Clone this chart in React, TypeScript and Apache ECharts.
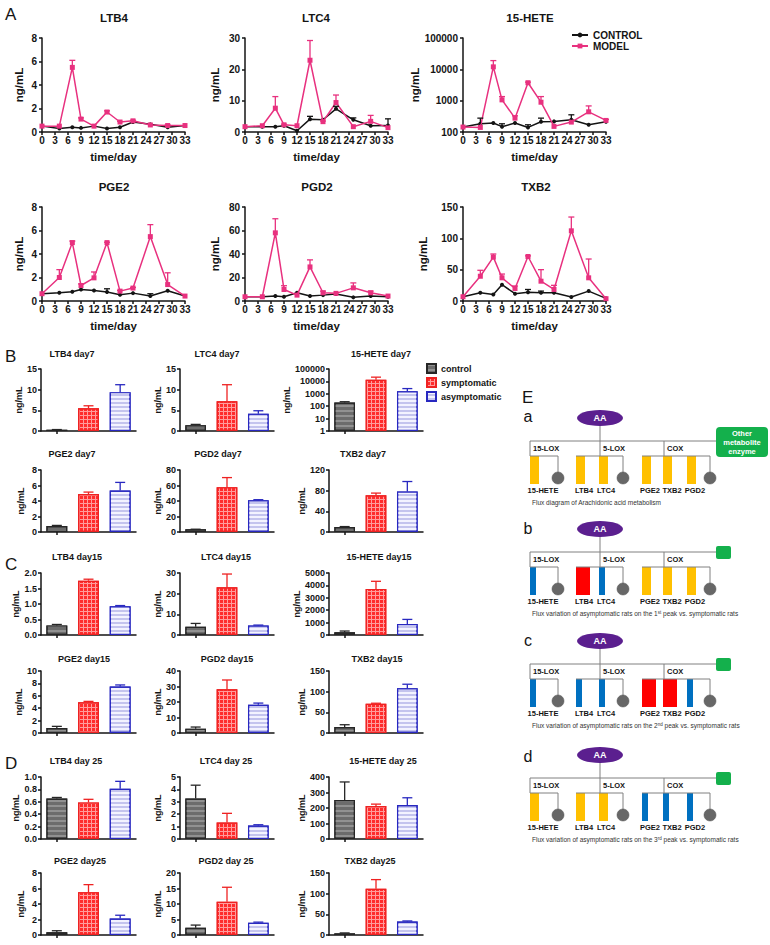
import React, { useEffect, useRef } from "react";
import * as echarts from "echarts";

const FONT = '"Liberation Sans", Arial, Helvetica, sans-serif';
const INK = "#141414";
const PINK = "#e8317f";

// ---------------- Panel A: time course (CONTROL vs MODEL) ----------------
const days = [0, 4, 7, 9, 12, 15, 18, 21, 25, 29, 33];

const ltb4Control = [0.5, 0.3, 0.4, 0.35, 0.5, 0.3, 0.4, 0.85, 0.65, 0.4, 0.55];
const ltb4ControlUp = [0.5, 0.3, 0.4, 0.35, 0.5, 0.3, 0.4, 0.85, 0.65, 0.4, 0.55];
const ltb4Model = [0.5, 0.5, 5.5, 1.1, 0.5, 1.7, 0.85, 0.95, 0.6, 0.55, 0.55];
const ltb4ModelUp = [0.5, 0.5, 6.1, 1.2, 0.5, 1.8, 0.9, 1.0, 0.6, 0.6, 0.55];

const ltc4Control = [1.7, 1.7, 1.7, 2.0, 0.4, 4.1, 3.9, 7.4, 3.9, 2.0, 2.1];
const ltc4ControlUp = [1.7, 1.7, 1.7, 2.0, 0.4, 5.0, 3.9, 8.2, 4.5, 2.0, 4.2];
const ltc4Model = [1.7, 2.0, 7.6, 2.3, 2.0, 22.9, 3.3, 9.4, 1.7, 3.4, 1.4];
const ltc4ModelUp = [1.7, 2.0, 11.3, 2.5, 2.0, 29.2, 3.5, 11.8, 1.7, 5.3, 1.4];

const heteControl = [144, 183, 193, 148, 193, 140, 212, 218, 246, 170, 212];
const heteControlUp = [144, 277, 193, 183, 193, 170, 277, 218, 354, 170, 212];
const heteModel = [144, 140, 12000, 1060, 277, 3740, 893, 151, 207, 441, 234];
const heteModelUp = [144, 140, 19000, 1350, 330, 3900, 1350, 151, 207, 680, 250];

const pge2Control = [0.62, 0.7, 0.79, 0.98, 0.9, 0.76, 0.53, 0.67, 0.42, 0.87, 0.42];
const pge2ControlUp = [0.62, 0.7, 0.79, 0.98, 0.9, 1.04, 0.53, 0.67, 0.62, 0.87, 0.42];
const pge2Model = [0.62, 2.0, 4.97, 1.32, 1.97, 4.97, 0.84, 1.1, 5.48, 1.4, 0.42];
const pge2ModelUp = [0.62, 2.67, 5.1, 1.45, 2.47, 5.0, 0.9, 1.15, 6.5, 2.4, 0.42];

const pgd2Control = [3.6, 3.6, 4.2, 3.6, 7, 4.2, 5, 5.9, 3.1, 4.2, 3.6];
const pgd2ControlUp = [3.6, 3.6, 4.2, 3.6, 7, 4.2, 5, 5.9, 3.1, 4.2, 3.6];
const pgd2Model = [3.6, 3.6, 58, 9.8, 5, 29, 7, 6.5, 11.2, 7, 4.2];
const pgd2ModelUp = [3.6, 3.6, 70, 13, 5, 35, 8.4, 6.5, 15.4, 8.4, 4.2];

const txb2Control = [6.8, 13, 10.5, 26, 11.6, 14, 13, 13, 6.3, 15.8, 4.2];
const txb2ControlUp = [6.8, 13, 10.5, 26, 11.6, 18.4, 15.8, 13, 6.3, 15.8, 4.2];
const txb2Model = [6.8, 39.5, 70, 37, 20, 71, 31.6, 18.4, 112, 37, 3.7];
const txb2ModelUp = [6.8, 49, 75, 43, 24, 72, 50, 25, 134, 67, 3.7];

const lineCharts = [
  { name: "LTB4", control: ltb4Control, controlUp: ltb4ControlUp, model: ltb4Model, modelUp: ltb4ModelUp, min: 0, max: 8, interval: 2, log: false },
  { name: "LTC4", control: ltc4Control, controlUp: ltc4ControlUp, model: ltc4Model, modelUp: ltc4ModelUp, min: 0, max: 30, interval: 10, log: false },
  { name: "15-HETE", control: heteControl, controlUp: heteControlUp, model: heteModel, modelUp: heteModelUp, min: 100, max: 100000, interval: 0, log: true },
  { name: "PGE2", control: pge2Control, controlUp: pge2ControlUp, model: pge2Model, modelUp: pge2ModelUp, min: 0, max: 8, interval: 2, log: false },
  { name: "PGD2", control: pgd2Control, controlUp: pgd2ControlUp, model: pgd2Model, modelUp: pgd2ModelUp, min: 0, max: 80, interval: 20, log: false },
  { name: "TXB2", control: txb2Control, controlUp: txb2ControlUp, model: txb2Model, modelUp: txb2ModelUp, min: 0, max: 150, interval: 50, log: false },
];

// ---------------- Panels B, C, D: bar charts ----------------
const groups = ["control", "symptomatic", "asymptomatic"];

// B: day 7
const ltb4Day7 = [0.3, 5.5, 9.4];
const ltb4Day7Up = [0.35, 6.1, 11.2];
const ltc4Day7 = [1.4, 7.2, 4.2];
const ltc4Day7Up = [1.6, 11.2, 4.9];
const heteDay7 = [195, 13500, 1620];
const heteDay7Up = [230, 22000, 2640];
const pge2Day7 = [0.77, 4.9, 5.36];
const pge2Day7Up = [0.85, 5.15, 6.4];
const pgd2Day7 = [3.4, 57.9, 40.9];
const pgd2Day7Up = [3.6, 70.2, 41.7];
const txb2Day7 = [9.6, 70.9, 78.5];
const txb2Day7Up = [10.5, 75.3, 97.7];

// C: day 15
const ltb4Day15 = [0.31, 1.75, 0.93];
const ltb4Day15Up = [0.34, 1.8, 0.95];
const ltc4Day15 = [4.0, 23.1, 4.65];
const ltc4Day15Up = [5.6, 29.5, 4.8];
const heteDay15 = [214, 3716, 882];
const heteDay15Up = [320, 4330, 1257];
const pge2Day15 = [0.8, 4.97, 7.49];
const pge2Day15Up = [1.07, 5.1, 7.75];
const pgd2Day15 = [2.8, 28.2, 18.2];
const pgd2Day15Up = [3.85, 34.2, 19.3];
const txb2Day15 = [14.4, 70.6, 108];
const txb2Day15Up = [20, 72, 118];

// D: day 25
const ltb4Day25 = [0.654, 0.59, 0.81];
const ltb4Day25Up = [0.67, 0.64, 0.93];
const ltc4Day25 = [3.27, 1.33, 1.09];
const ltc4Day25Up = [4.34, 2.07, 1.15];
const heteDay25 = [251, 213, 219];
const heteDay25Up = [368, 225, 266];
const pge2Day25 = [0.34, 5.53, 2.13];
const pge2Day25Up = [0.55, 6.5, 2.55];
const pgd2Day25 = [2.34, 10.7, 3.94];
const pgd2Day25Up = [3.2, 15.4, 4.15];
const txb2Day25 = [4, 112, 32.7];
const txb2Day25Up = [5, 134, 34];

const barCharts = [
  { title: "LTB4 day7", mean: ltb4Day7, up: ltb4Day7Up, max: 15, interval: 5, dec: 0, log: false },
  { title: "LTC4 day7", mean: ltc4Day7, up: ltc4Day7Up, max: 15, interval: 5, dec: 0, log: false },
  { title: "15-HETE day7", mean: heteDay7, up: heteDay7Up, max: 100000, interval: 0, dec: 0, log: true },
  { title: "PGE2 day7", mean: pge2Day7, up: pge2Day7Up, max: 8, interval: 2, dec: 0, log: false },
  { title: "PGD2 day7", mean: pgd2Day7, up: pgd2Day7Up, max: 80, interval: 20, dec: 0, log: false },
  { title: "TXB2 day7", mean: txb2Day7, up: txb2Day7Up, max: 120, interval: 40, dec: 0, log: false },
  { title: "LTB4 day15", mean: ltb4Day15, up: ltb4Day15Up, max: 2, interval: 0.5, dec: 1, log: false },
  { title: "LTC4 day15", mean: ltc4Day15, up: ltc4Day15Up, max: 30, interval: 10, dec: 0, log: false },
  { title: "15-HETE day15", mean: heteDay15, up: heteDay15Up, max: 5000, interval: 1000, dec: 0, log: false },
  { title: "PGE2 day15", mean: pge2Day15, up: pge2Day15Up, max: 10, interval: 2, dec: 0, log: false },
  { title: "PGD2 day15", mean: pgd2Day15, up: pgd2Day15Up, max: 40, interval: 10, dec: 0, log: false },
  { title: "TXB2 day15", mean: txb2Day15, up: txb2Day15Up, max: 150, interval: 50, dec: 0, log: false },
  { title: "LTB4 day 25", mean: ltb4Day25, up: ltb4Day25Up, max: 1, interval: 0.2, dec: 1, log: false },
  { title: "LTC4 day 25", mean: ltc4Day25, up: ltc4Day25Up, max: 5, interval: 1, dec: 0, log: false },
  { title: "15-HETE day 25", mean: heteDay25, up: heteDay25Up, max: 400, interval: 100, dec: 0, log: false },
  { title: "PGE2 day25", mean: pge2Day25, up: pge2Day25Up, max: 8, interval: 2, dec: 0, log: false },
  { title: "PGD2 day 25", mean: pgd2Day25, up: pgd2Day25Up, max: 20, interval: 5, dec: 0, log: false },
  { title: "TXB2 day25", mean: txb2Day25, up: txb2Day25Up, max: 150, interval: 50, dec: 0, log: false },
];

// ---------------- Panel E: flux diagrams ----------------
const fluxMetabolites = ["15-HETE", "LTB4", "LTC4", "PGE2", "TXB2", "PGD2"];
const fluxA = ["base", "base", "base", "base", "base", "base"];
const fluxB = ["down", "up", "down", "base", "base", "base"];
const fluxC = ["down", "down", "down", "up", "up", "down"];
const fluxD = ["base", "base", "base", "down", "down", "down"];
const fluxLetters = ["a", "b", "c", "d"];
const fluxCaptions = [
  "Flux diagram of Arachidonic acid metabolism",
  "{n|Flux variation of asymptomatic rats on the 1}{s|st}{n| peak vs. symptomatic rats}",
  "{n|Flux variation of asymptomatic rats on the 2}{s|nd}{n| peak vs. symptomatic rats}",
  "{n|Flux variation of asymptomatic rats on the 3}{s|rd}{n| peak vs. symptomatic rats}",
];

// ---------------- layout ----------------
const lineLayout = [
  { left: 42, top: 38, gap: 17, tx: 114, ty: 18 },
  { left: 245, top: 38, gap: 24, tx: 316, ty: 18 },
  { left: 463, top: 38, gap: 38, tx: 530, ty: 18 },
  { left: 42, top: 207, gap: 17, tx: 114, ty: 187 },
  { left: 245, top: 207, gap: 24, tx: 317, ty: 187 },
  { left: 463, top: 207, gap: 34, tx: 536, ty: 187 },
];
const barColLeft = [41, 180, 329];
const barColWidth = [95, 94, 94];
const barRowTop = [369, 470, 573, 671, 777, 873];
const barTitleY = [354, 454, 557, 659, 761, 861];
const barTitleX = [
  [72, 217, 381],
  [72, 218, 363],
  [77, 226, 379],
  [84, 227, 377],
  [76, 226, 383],
  [80, 226, 370],
];

const barPalette = ["#262626", "#ee2222", "#2828c0"];
const barStyles = [
  { color: "#6c6c6c", borderColor: "#262626", borderWidth: 1.2, decal: { symbol: "rect", symbolSize: 1, dashArrayX: [1, 0], dashArrayY: [2, 3], color: "rgba(175,175,175,0.55)" } },
  { color: "#ff9c9c", borderColor: "#ee2222", borderWidth: 1.2, decal: { symbol: "rect", symbolSize: 1, dashArrayX: [3, 1], dashArrayY: [3, 1], color: "#ff2c2c" } },
  { color: "#c4c4ee", borderColor: "#2828c0", borderWidth: 1.2, decal: { symbol: "rect", symbolSize: 1, dashArrayX: [1, 0], dashArrayY: [2, 2], color: "#f3f3ff" } },
];

function errorSeries(idx: number, points: any[], colors: string[], cap: number) {
  return {
    type: "custom",
    name: "error",
    xAxisIndex: idx,
    yAxisIndex: idx,
    silent: true,
    z: 5,
    data: points,
    renderItem: (_p: any, api: any) => {
      const x = api.value(0);
      const v = api.value(1);
      const up = api.value(2);
      const ci = api.value(3);
      if (!(up > v)) return null;
      const a = api.coord([x, v]);
      const b = api.coord([x, up]);
      const color = colors[ci];
      return {
        type: "group",
        children: [
          { type: "line", shape: { x1: a[0], y1: a[1], x2: b[0], y2: b[1] }, style: { stroke: color, lineWidth: 1.3 } },
          { type: "line", shape: { x1: b[0] - cap, y1: b[1], x2: b[0] + cap, y2: b[1] }, style: { stroke: color, lineWidth: 1.3 } },
        ],
      };
    },
  };
}

function txt(text: string, x: number, y: number, size: number, opts: any = {}) {
  return {
    type: "text",
    x,
    y,
    silent: true,
    style: {
      text,
      fill: opts.fill || INK,
      fontFamily: FONT,
      fontSize: size,
      fontWeight: opts.weight || "normal",
      align: opts.align || "center",
      verticalAlign: "middle",
      textAlign: opts.align || "center",
      textVerticalAlign: "middle",
      lineHeight: opts.lineHeight,
      rich: opts.rich,
    },
  };
}

const fluxColor: any = { base: "#ffc000", up: "#ff0000", down: "#0070c0" };
const fluxWidth: any = { base: 9, up: 14, down: 6 };
const fluxOffsets = [0, 111, 223, 337];
const slotLeft = [530, 576, 599, 642, 663, 687];
const labelX = [543, 584, 606, 650, 672, 695];

function fluxDiagram(k: number, states: string[]) {
  const dy = fluxOffsets[k];
  const els: any[] = [];
  const L = { stroke: "#808080", lineWidth: 1 };
  const mainY = 441 + dy;
  const subY = 456 + dy;
  const barBottom = 484 + dy;
  const circY = 478 + dy;
  const line = (x1: number, y1: number, x2: number, y2: number) =>
    els.push({ type: "line", silent: true, shape: { x1, y1, x2, y2 }, style: L });
  states.forEach((s, m) =>
    els.push({ type: "rect", silent: true, shape: { x: slotLeft[m], y: subY, width: fluxWidth[s], height: barBottom - subY }, style: { fill: fluxColor[s] } })
  );
  line(530, mainY, 716, mainY);
  line(600, 424 + dy, 600, subY);
  line(530, mainY, 530, subY);
  line(664, mainY, 664, subY);
  line(530, subY, 558, subY);
  line(558, subY, 558, circY);
  line(576, subY, 623, subY);
  line(623, subY, 623, circY);
  line(642, subY, 710, subY);
  line(710, subY, 710, circY);
  [558, 623, 710].forEach((cx) =>
    els.push({ type: "circle", silent: true, shape: { cx, cy: circY, r: 6 }, style: { fill: "#676767", stroke: "#555", lineWidth: 0.5 } })
  );
  els.push({ type: "ellipse", silent: true, shape: { cx: 600, cy: 418 + dy, rx: 23, ry: 8 }, style: { fill: "#5b1f8f" } });
  els.push(txt("AA", 600, 418 + dy, 9, { weight: "bold", fill: "#ffffff" }));
  els.push(txt("15-LOX", 533, 448 + dy, 7.5, { weight: "bold", align: "left" }));
  els.push(txt("5-LOX", 603, 448 + dy, 7.5, { weight: "bold", align: "left" }));
  els.push(txt("COX", 667, 448 + dy, 7.5, { weight: "bold", align: "left" }));
  fluxMetabolites.forEach((m, i) => els.push(txt(m, labelX[i], 490 + dy, 7.5, { weight: "bold" })));
  if (k === 0) {
    els.push({ type: "rect", silent: true, shape: { x: 716, y: 427, width: 52, height: 30, r: 4 }, style: { fill: "#14b04c" } });
    els.push(txt("Other\nmetabolite\nenzyme", 742, 442, 7.5, { weight: "bold", fill: "#ffffff", lineHeight: 9 }));
  } else {
    els.push({ type: "rect", silent: true, shape: { x: 716, y: mainY - 6, width: 15, height: 13, r: 2 }, style: { fill: "#14b04c" } });
  }
  els.push(
    txt(fluxCaptions[k], 532, 502 + dy, 6.5, {
      align: "left",
      fill: "#333333",
      rich: { n: { fontSize: 6.5, fontFamily: FONT, fill: "#333333" }, s: { fontSize: 4.5, fontFamily: FONT, fill: "#333333", verticalAlign: "top" } },
    })
  );
  els.push(txt(fluxLetters[k], 528, [416, 528, 640, 756][k], 16));
  return els;
}

function buildOption() {
  const grids: any[] = [];
  const xAxes: any[] = [];
  const yAxes: any[] = [];
  const series: any[] = [];
  const graphics: any[] = [];
  const axLine = { color: INK, width: 1.5 };

  lineCharts.forEach((c, i) => {
    const L = lineLayout[i];
    grids.push({ left: L.left, top: L.top, width: 143, height: 94 });
    xAxes.push({
      gridIndex: i,
      type: "value",
      min: 0,
      max: 33,
      interval: 3,
      name: "time/day",
      nameLocation: "middle",
      nameGap: 19,
      nameTextStyle: { fontFamily: FONT, fontWeight: "bold", fontSize: 11.5, color: INK },
      axisLine: { show: true, onZero: false, lineStyle: axLine },
      axisTick: { show: true, length: 3, lineStyle: axLine },
      axisLabel: { fontFamily: FONT, fontWeight: "bold", fontSize: 10, color: INK, margin: 3 },
      splitLine: { show: false },
    });
    yAxes.push({
      gridIndex: i,
      type: c.log ? "log" : "value",
      logBase: 10,
      min: c.min,
      max: c.max,
      ...(c.log ? {} : { interval: c.interval }),
      name: "ng/mL",
      nameLocation: "middle",
      nameGap: L.gap,
      nameTextStyle: { fontFamily: FONT, fontWeight: "bold", fontSize: 11.5, color: INK },
      axisLine: { show: true, lineStyle: axLine },
      axisTick: { show: true, length: 3, lineStyle: axLine },
      axisLabel: { fontFamily: FONT, fontWeight: "bold", fontSize: 10, color: INK, margin: 5, formatter: (v: number) => String(Math.round(v)) },
      splitLine: { show: false },
      minorTick: { show: false },
    });
    series.push({
      type: "line",
      name: "CONTROL",
      xAxisIndex: i,
      yAxisIndex: i,
      data: days.map((d, k) => [d, c.control[k]]),
      symbol: "circle",
      symbolSize: 4,
      lineStyle: { color: INK, width: 1.5 },
      itemStyle: { color: INK },
      z: 3,
    });
    series.push({
      type: "line",
      name: "MODEL",
      xAxisIndex: i,
      yAxisIndex: i,
      data: days.map((d, k) => [d, c.model[k]]),
      symbol: "rect",
      symbolSize: 5,
      lineStyle: { color: PINK, width: 1.5 },
      itemStyle: { color: PINK },
      z: 4,
    });
    series.push(errorSeries(i, days.map((d, k) => [d, c.control[k], c.controlUp[k], 0]), [INK, PINK], 3));
    series.push(errorSeries(i, days.map((d, k) => [d, c.model[k], c.modelUp[k], 1]), [INK, PINK], 3));
    graphics.push(txt(c.name, L.tx, L.ty, 11.5, { weight: "bold" }));
  });

  barCharts.forEach((c, j) => {
    const gi = 6 + j;
    const row = Math.floor(j / 3);
    const col = j % 3;
    grids.push({ left: barColLeft[col], top: barRowTop[row], width: barColWidth[col], height: 62 });
    xAxes.push({
      gridIndex: gi,
      type: "category",
      data: groups,
      axisLine: { show: true, lineStyle: axLine },
      axisTick: { show: true, alignWithLabel: true, length: 3, lineStyle: axLine },
      axisLabel: { show: false },
      splitLine: { show: false },
    });
    const gap = col === 0 ? 16 : col === 1 ? 18 : c.log ? 33 : c.max >= 1000 ? 28 : 21;
    yAxes.push({
      gridIndex: gi,
      type: c.log ? "log" : "value",
      logBase: 10,
      min: c.log ? 1 : 0,
      max: c.max,
      ...(c.log ? {} : { interval: c.interval }),
      name: "ng/mL",
      nameLocation: "middle",
      nameGap: gap,
      nameTextStyle: { fontFamily: FONT, fontWeight: "bold", fontSize: 9, color: INK },
      axisLine: { show: true, lineStyle: axLine },
      axisTick: { show: true, length: 3, lineStyle: axLine },
      axisLabel: {
        fontFamily: FONT,
        fontWeight: "bold",
        fontSize: 9,
        color: INK,
        margin: 4,
        formatter: (v: number) => (c.dec ? v.toFixed(c.dec) : String(Math.round(v))),
      },
      splitLine: { show: false },
      minorTick: { show: false },
    });
    groups.forEach((g, k) => {
      series.push({
        type: "bar",
        name: g,
        xAxisIndex: gi,
        yAxisIndex: gi,
        data: groups.map((_, m) => (m === k ? c.mean[k] : "-")),
        barWidth: "66%",
        barGap: "-100%",
        itemStyle: barStyles[k],
        z: 2,
      });
    });
    series.push(errorSeries(gi, groups.map((_, k) => [k, c.mean[k], c.up[k], k]), barPalette, 5));
    graphics.push(txt(c.title, barTitleX[row][col], barTitleY[row], 9, { weight: "bold" }));
  });

  graphics.push(txt("A", 5, 14, 17, { align: "left" }));
  graphics.push(txt("B", 5, 356, 17, { align: "left" }));
  graphics.push(txt("C", 5, 564, 17, { align: "left" }));
  graphics.push(txt("D", 5, 763, 17, { align: "left" }));
  graphics.push(txt("E", 522, 397, 17, { align: "left" }));

  [fluxA, fluxB, fluxC, fluxD].forEach((st, k) => graphics.push(...fluxDiagram(k, st)));

  return {
    animation: false,
    backgroundColor: "#ffffff",
    textStyle: { fontFamily: FONT },
    grid: grids,
    xAxis: xAxes,
    yAxis: yAxes,
    legend: [
      {
        data: ["CONTROL", "MODEL"],
        orient: "vertical",
        left: 571,
        top: 30,
        padding: 0,
        itemGap: 1,
        itemWidth: 16,
        itemHeight: 6,
        selectedMode: false,
        textStyle: { fontFamily: FONT, fontWeight: "bold", fontSize: 10, color: INK },
      },
      {
        data: ["control", "symptomatic", "asymptomatic"],
        orient: "vertical",
        left: 426,
        top: 363,
        padding: 0,
        itemGap: 3,
        itemWidth: 9,
        itemHeight: 9,
        icon: "rect",
        selectedMode: false,
        textStyle: { fontFamily: FONT, fontWeight: "bold", fontSize: 9, color: INK },
      },
    ],
    series,
    graphic: { elements: graphics },
  };
}

export default function App() {
  const ref = useRef<HTMLDivElement>(null);
  useEffect(() => {
    if (!ref.current) return;
    const chart = echarts.init(ref.current, undefined, { renderer: "svg" });
    chart.setOption(buildOption() as any);
    return () => chart.dispose();
  }, []);
  return (
    <div
      ref={ref}
      style={{ position: "absolute", left: 0, top: 0, width: 770, height: 945, background: "#ffffff" }}
    />
  );
}
